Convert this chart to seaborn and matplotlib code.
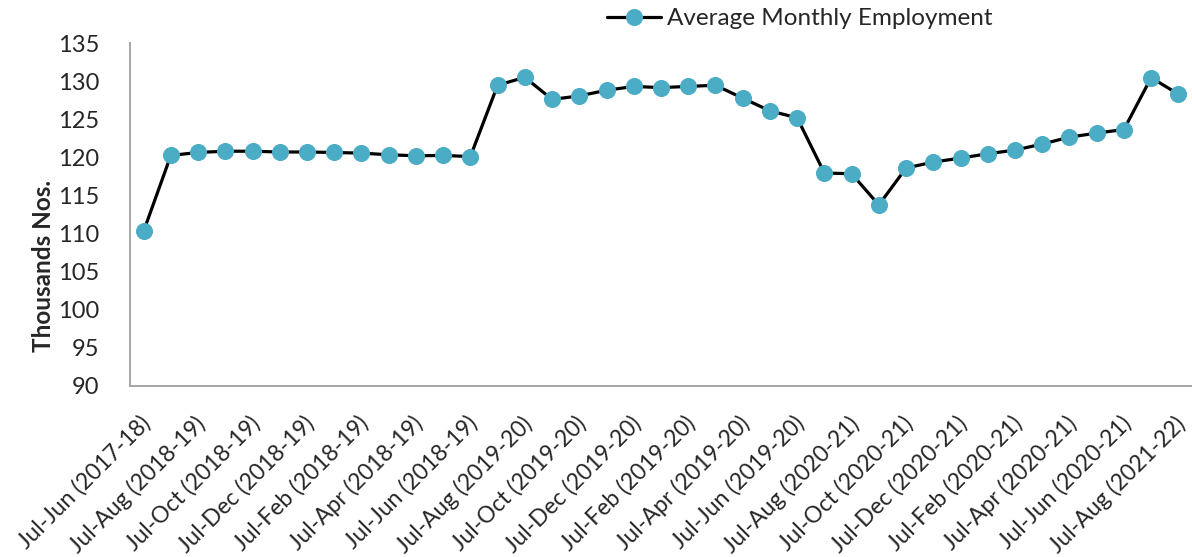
import numpy as np
import pandas as pd
import matplotlib
matplotlib.use("Agg")
import matplotlib.pyplot as plt
import matplotlib.transforms as mtrans
import seaborn as sns

# ── data ───────────────────────────────────────────────────────────────────
periods = [
    "Jul-Jun (2017-18)",
    "Jul (2018-19)", "Jul-Aug (2018-19)", "Jul-Sep (2018-19)", "Jul-Oct (2018-19)",
    "Jul-Nov (2018-19)", "Jul-Dec (2018-19)", "Jul-Jan (2018-19)", "Jul-Feb (2018-19)",
    "Jul-Mar (2018-19)", "Jul-Apr (2018-19)", "Jul-May (2018-19)", "Jul-Jun (2018-19)",
    "Jul (2019-20)", "Jul-Aug (2019-20)", "Jul-Sep (2019-20)", "Jul-Oct (2019-20)",
    "Jul-Nov (2019-20)", "Jul-Dec (2019-20)", "Jul-Jan (2019-20)", "Jul-Feb (2019-20)",
    "Jul-Mar (2019-20)", "Jul-Apr (2019-20)", "Jul-May (2019-20)", "Jul-Jun (2019-20)",
    "Jul (2020-21)", "Jul-Aug (2020-21)", "Jul-Sep (2020-21)", "Jul-Oct (2020-21)",
    "Jul-Nov (2020-21)", "Jul-Dec (2020-21)", "Jul-Jan (2020-21)", "Jul-Feb (2020-21)",
    "Jul-Mar (2020-21)", "Jul-Apr (2020-21)", "Jul-May (2020-21)", "Jul-Jun (2020-21)",
    "Jul (2021-22)", "Jul-Aug (2021-22)",
]
employment = [
    110.3,
    120.25, 120.64, 120.8, 120.8, 120.7, 120.7, 120.64, 120.55, 120.34, 120.2, 120.25, 120.1,
    129.46, 130.5, 127.6, 128.06, 128.8, 129.3, 129.15, 129.3, 129.46, 127.76, 126.1, 125.18,
    117.94, 117.85, 113.75, 118.6, 119.38, 119.9, 120.47, 120.95, 121.74, 122.65, 123.18, 123.65,
    130.46, 128.28,
]
y_ticks = [90, 95, 100, 105, 110, 115, 120, 125, 130, 135]
series_name = "Average Monthly Employment"

LINE_C = "black"
MARK_C = "#4BACC6"
AXIS_C = "#a6a6a6"

sns.set_style("white")
plt.rcParams["font.family"] = ["Lato", "DejaVu Sans"]

df = pd.DataFrame({"idx": np.arange(len(periods)), "value": employment})

fig = plt.figure(figsize=(11.92, 5.57), dpi=100)
ax = fig.add_axes([130 / 1192, (557 - 386) / 557, 1062 / 1192, 343 / 557])

sns.lineplot(data=df, x="idx", y="value", ax=ax, color=LINE_C, lw=2.3,
             marker="o", markersize=11.5, markerfacecolor=MARK_C,
             markeredgecolor=MARK_C, label=series_name, legend=False)

ax.set_xlim(-0.5, len(periods) - 0.5)
ax.set_ylim(y_ticks[0], y_ticks[-1])
ax.set_yticks(y_ticks)
ax.set_yticklabels([str(t) for t in y_ticks], fontsize=17)
ax.tick_params(axis="y", length=0, pad=22)

# every other period gets a label, as in the original
shown = list(range(0, len(periods), 2))
ax.set_xticks(shown)
ax.set_xticklabels([periods[i] for i in shown], rotation=45, ha="right",
                   va="top", rotation_mode="anchor", fontsize=16.5)
ax.tick_params(axis="x", length=0, pad=19)
shift = mtrans.ScaledTranslation(-4 / 100, 0, fig.dpi_scale_trans)
for lab in ax.get_xticklabels():
    lab.set_transform(lab.get_transform() + shift)

ax.set_xlabel("")
ax.set_ylabel("Thousands Nos.", fontsize=17.5, fontweight="bold")
ax.yaxis.set_label_coords(-0.071, 0.35)

for side in ["top", "right"]:
    ax.spines[side].set_visible(False)
for side in ["left", "bottom"]:
    ax.spines[side].set_color(AXIS_C)
    ax.spines[side].set_linewidth(1.4)

handles, labels = ax.get_legend_handles_labels()
fig.legend(handles, labels, loc="center", bbox_to_anchor=(0.671, 0.966),
           frameon=False, fontsize=17.5, handlelength=2.2, handletextpad=0.25)

fig.savefig("out.png", dpi=100)
